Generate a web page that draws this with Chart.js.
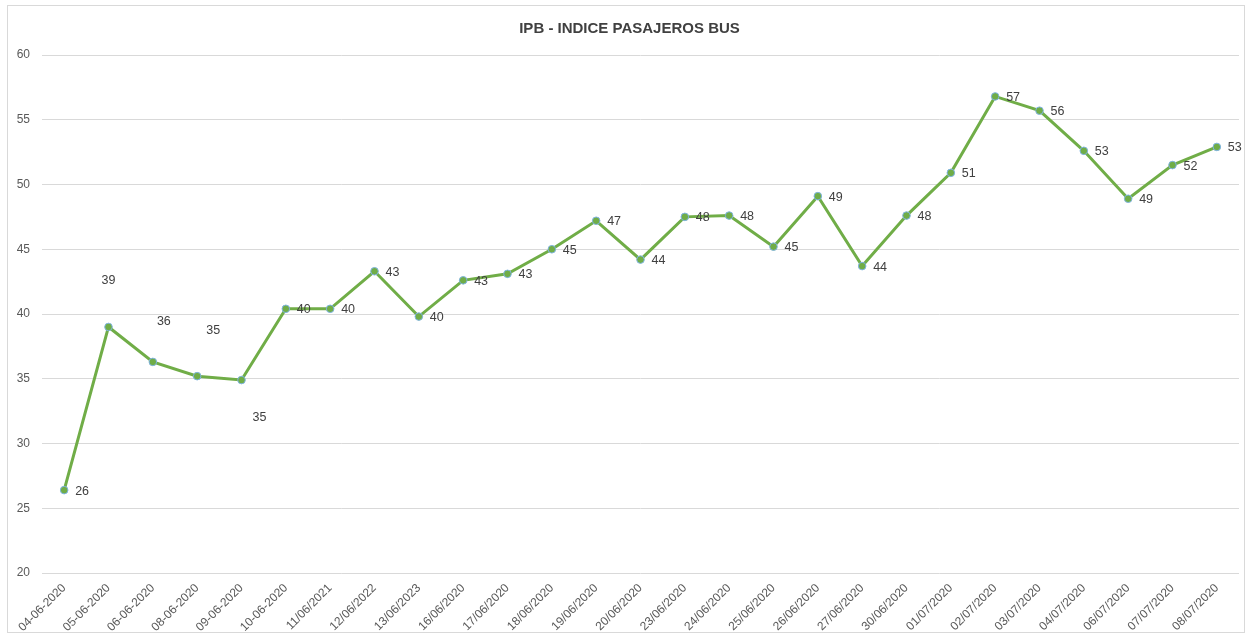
<!DOCTYPE html>
<html>
<head>
<meta charset="utf-8">
<script src="https://cdn.jsdelivr.net/npm/chart.js@4/dist/chart.umd.min.js"></script>
<style>
  html, body { margin: 0; padding: 0; background: #ffffff; }
  #wrap { position: absolute; left: 7px; top: 5px; width: 1236px; height: 626px; border: 1px solid #d9d9d9; background: #fff; }
  canvas { display: block; }
</style>
</head>
<body>
<div id="wrap"><canvas id="c" width="1236" height="626"></canvas></div>
<script>
const categories = ["04-06-2020","05-06-2020","06-06-2020","08-06-2020","09-06-2020","10-06-2020","11/06/2021","12/06/2022","13/06/2023","16/06/2020","17/06/2020","18/06/2020","19/06/2020","20/06/2020","23/06/2020","24/06/2020","25/06/2020","26/06/2020","27/06/2020","30/06/2020","01/07/2020","02/07/2020","03/07/2020","04/07/2020","06/07/2020","07/07/2020","08/07/2020"];
const indiceValues = [26.4, 39.0, 36.3, 35.2, 34.9, 40.4, 40.4, 43.3, 39.8, 42.6, 43.1, 45.0, 47.2, 44.2, 47.5, 47.6, 45.2, 49.1, 43.7, 47.6, 50.9, 56.8, 55.7, 52.6, 48.9, 51.5, 52.9];
const yTicks = [20, 25, 30, 35, 40, 45, 50, 55, 60];
const chartTitle = "IPB - INDICE PASAJEROS BUS";

const FONT = "'Liberation Sans', Arial, sans-serif";

// label placement offsets (style only, by point index)
const labelOffsets = { 1: [0, -46, 'center'], 2: [11, -40, 'center'], 3: [16, -46, 'center'], 4: [18, 38, 'center'] };

const dataLabelPlugin = {
  id: 'dataLabels',
  afterDatasetsDraw(chart) {
    const ctx = chart.ctx;
    const meta = chart.getDatasetMeta(0);
    ctx.save();
    ctx.font = "12.5px " + FONT;
    ctx.fillStyle = "#404040";
    ctx.textBaseline = "middle";
    meta.data.forEach((pt, i) => {
      const v = chart.data.datasets[0].data[i];
      const txt = String(Math.round(v));
      const off = labelOffsets[i];
      if (off) {
        ctx.textAlign = off[2];
        ctx.fillText(txt, pt.x + off[0], pt.y + off[1]);
      } else {
        ctx.textAlign = "left";
        ctx.fillText(txt, pt.x + 11, pt.y + 1);
      }
    });
    ctx.restore();
  }
};

new Chart(document.getElementById('c'), {
  type: 'line',
  data: {
    labels: categories,
    datasets: [{
      label: chartTitle,
      data: indiceValues,
      borderColor: '#70ad47',
      borderWidth: 3,
      pointRadius: 3.8,
      pointBackgroundColor: '#70ad47',
      pointBorderColor: '#7fb3e0',
      pointBorderWidth: 1,
      tension: 0,
      fill: false
    }]
  },
  options: {
    responsive: false,
    animation: false,
    layout: { padding: { left: 7, right: 0, top: 6, bottom: 0 } },
    plugins: {
      legend: { display: false },
      tooltip: { enabled: false },
      title: {
        display: true,
        text: chartTitle,
        color: '#404040',
        font: { family: FONT, size: 15, weight: 'bold' },
        padding: { top: 8, bottom: 17 }
      }
    },
    scales: {
      x: {
        offset: true,
        grid: { display: false },
        border: { display: false },
        afterFit(scale) { scale.paddingLeft = 0; scale.paddingRight = 5; scale.height = 59; },
        ticks: {
          color: '#595959',
          font: { family: FONT, size: 12 },
          minRotation: 45,
          maxRotation: 45,
          autoSkip: false,
          padding: 0
        }
      },
      y: {
        min: 20,
        max: 60,
        afterBuildTicks(axis) { axis.ticks = yTicks.map(v => ({ value: v })); },
        afterFit(scale) { scale.width = 27; },
        grid: { color: '#d9d9d9', lineWidth: 1, drawTicks: false },
        border: { display: false },
        ticks: {
          color: '#595959',
          font: { family: FONT, size: 12 },
          padding: 12
        }
      }
    }
  },
  plugins: [dataLabelPlugin]
});
</script>
</body>
</html>
